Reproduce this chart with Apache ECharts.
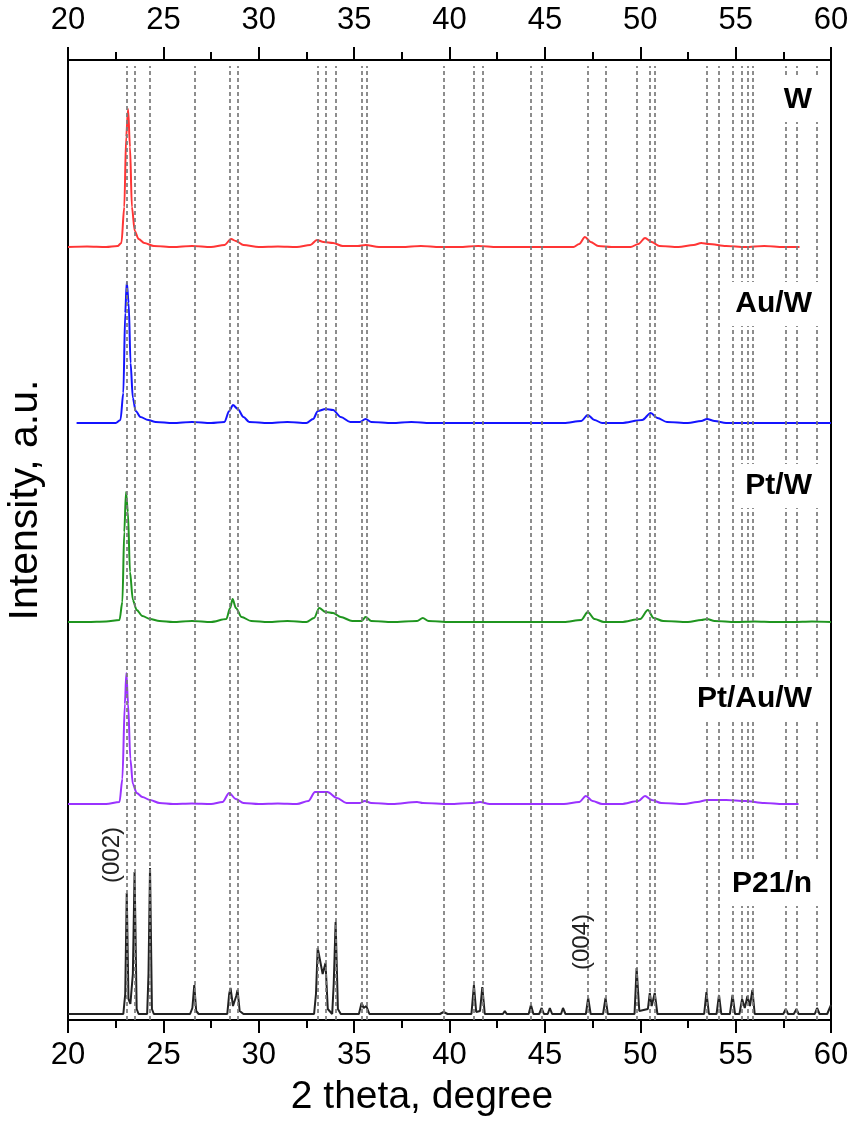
<!DOCTYPE html>
<html>
<head>
<meta charset="utf-8">
<script src="https://cdn.jsdelivr.net/npm/echarts@6/dist/echarts.min.js"></script>
<style>
  html, body { margin: 0; padding: 0; background: #fff; }
  #mycharts { width: 853px; height: 1122px; }
</style>
</head>
<body>
<div id="mycharts"></div>
<script>
// x = 2 theta (degree), y = intensity above each trace's own baseline
const xTicks = [20, 25, 30, 35, 40, 45, 50, 55, 60]

const refLines = [23.08, 23.49, 24.30, 26.62, 28.49, 28.89, 33.09, 33.50, 34.03, 35.39, 35.64, 39.69,
  41.28, 41.72, 44.27, 44.83, 47.27, 48.18, 49.81, 50.50, 50.76, 53.47, 54.13, 54.84, 55.34, 55.62,
  55.88, 57.63, 58.19, 59.27]

const offsets = { W: 773, AuW: 597, PtW: 398, PtAuW: 216, P21n: 6 }

const wData = [[20.0,0],[21,0.5],[22,0],[22.6,1],[22.8,4],[22.95,40],[23.05,110],[23.15,138],[23.25,100],
  [23.35,40],[23.5,16],[23.7,8],[24,4],[24.5,1],[25.5,0],[26.5,1],[27.5,0],[28.2,2],[28.55,8],[28.8,6],
  [29.2,2],[30,0],[31,0.5],[32,0],[32.7,2],[33.05,7],[33.4,5],[33.9,4],[34.4,1],[35.2,1],[35.6,2],[36.3,0],
  [37.5,0],[38.5,1],[39.5,0],[40.5,0],[41.5,1],[42.5,0],[43.5,0],[44.5,0],[45.5,0],[46.5,0],[46.8,3],
  [47.1,10],[47.4,5],[47.8,1],[48.5,0],[49.5,0],[49.9,3],[50.25,9],[50.6,5],[51,1],[52,0],[52.8,2],
  [53.2,4],[53.6,3],[54.5,1],[55.5,0],[56.5,1],[57.5,0],[58.35,0]]

const auwData = [[20.45,0],[21.5,0],[22.5,0],[22.75,3],[22.9,30],[23.0,110],[23.08,141],[23.18,120],
  [23.28,60],[23.4,25],[23.55,12],[23.8,6],[24.2,3],[24.6,1],[25.5,0],[26.5,1],[27.5,0],[28.2,1],
  [28.45,12],[28.65,18],[28.9,14],[29.2,6],[29.5,1],[30.5,0],[31.5,1],[32.5,0],[32.85,4],[33.1,12],
  [33.5,14],[33.9,13],[34.3,6],[34.8,1],[35.3,1],[35.6,4],[35.9,1],[37,0],[38,1],[39,0],[40,0],[41,0],
  [42,0],[43,0],[44,0],[45,0],[46,0],[46.9,2],[47.25,8],[47.6,3],[48,0],[49,0],[50.1,3],[50.55,10],
  [50.9,5],[51.4,1],[52.5,0],[53.2,2],[53.5,4],[53.9,2],[54.5,0],[55.5,0],[56.5,0],[57.5,0],[58.5,0],
  [59.5,0],[60,0]]

const ptwData = [[20,0],[21,0],[22,0.5],[22.7,2],[22.85,20],[22.95,90],[23.04,130],[23.14,110],[23.25,50],
  [23.4,22],[23.6,12],[23.9,6],[24.3,3],[24.8,1],[25.5,0],[26.5,1],[27.5,0],[28.3,3],[28.5,14],[28.63,23],
  [28.8,14],[29.1,5],[29.6,1],[30.5,0],[31.5,1],[32.5,0],[32.9,4],[33.17,14],[33.5,10],[33.9,9],[34.3,5],
  [34.9,1],[35.4,1],[35.6,5],[35.9,1],[37,0],[38.3,1],[38.6,4],[38.9,1],[40,0],[41,0],[42,0],[43,0],
  [44,0],[45,0],[46,0],[46.9,2],[47.25,10],[47.6,3],[48.1,0],[49,0],[50.0,3],[50.4,12],[50.7,4],[51.2,1],
  [52.5,0],[53.2,2],[53.5,3],[53.9,1],[55,0],[56,0.5],[57,0],[58,0],[59,0.5],[60,0]]

const ptauwData = [[20,0],[21,0],[22,0],[22.7,2],[22.85,25],[22.98,100],[23.06,131],[23.15,100],[23.27,45],
  [23.4,20],[23.6,11],[23.9,7],[24.3,4],[24.8,1],[25.5,0],[26.5,0.5],[27.5,0],[28.1,2],[28.45,11],[28.8,5],
  [29.2,1],[30,0],[31,0.5],[32,0],[32.6,3],[32.95,12],[33.6,12],[34.1,6],[34.6,1],[35.3,1],[35.55,3],
  [35.9,1],[37,0],[38.3,2],[38.6,1],[40,0],[41.2,1],[41.6,2],[42.1,0],[43,0],[44,0],[45,0],[46,0],
  [46.8,2],[47.15,8],[47.5,3],[48,0],[49,0],[49.9,3],[50.25,8],[50.6,4],[51.1,1],[52.3,0],[53,2],
  [53.5,4],[54.5,4],[55.5,3],[56.5,1],[57.5,0],[58.3,0]]

const p21nData = [[20,0],[22.9,0],[23.0,20],[23.08,121],[23.17,15],[23.27,10],[23.4,40],[23.49,142],
  [23.6,5],[23.7,0],[24.15,0],[24.22,40],[24.3,146],[24.4,5],[24.5,0],[26.4,0],[26.52,6],[26.62,29],
  [26.72,3],[26.85,0],[28.35,0],[28.45,20],[28.52,26],[28.65,8],[28.82,18],[28.89,24],[29.0,3],[29.2,0],
  [32.9,0],[33.0,20],[33.09,66],[33.25,50],[33.35,40],[33.5,51],[33.62,5],[33.85,0],[33.93,30],
  [34.03,92],[34.15,5],[34.3,0],[35.25,0],[35.39,11],[35.5,6],[35.64,8],[35.8,0],[39.5,0],[39.69,2],
  [39.9,0],[41.15,0],[41.28,29],[41.4,2],[41.6,3],[41.72,27],[41.85,0],[42.8,0],[42.9,3],[43.0,0],
  [44.15,0],[44.27,9],[44.4,0],[44.7,0],[44.83,6],[44.95,0],[45.15,0],[45.26,6],[45.38,0],[45.85,0],
  [45.95,6],[46.08,0],[47.15,0],[47.27,16],[47.4,0],[48.05,0],[48.18,16],[48.3,0],[49.7,0],[49.81,46],
  [49.95,3],[50.4,5],[50.5,21],[50.6,8],[50.76,21],[50.9,0],[53.35,0],[53.47,22],[53.6,0],[54.0,0],
  [54.13,19],[54.25,0],[54.7,0],[54.84,19],[54.97,0],[55.2,0],[55.34,15],[55.48,6],[55.62,18],
  [55.75,8],[55.88,24],[56.0,0],[57.5,0],[57.63,5],[57.75,0],[58.05,0],[58.19,5],[58.3,0],[59.15,0],
  [59.27,6],[59.4,0],[59.8,0],[60,9]]

const FONT = '"Liberation Sans", Arial, Helvetica, sans-serif'

function shift(arr, off) {
  return arr.map(p => [p[0], p[1] + off])
}

function trace(name, arr, off, color, smooth) {
  return {
    name: name,
    type: 'line',
    showSymbol: false,
    smooth: smooth,
    smoothMonotone: 'x',
    lineStyle: { color: color, width: 2 },
    itemStyle: { color: color },
    data: shift(arr, off),
    z: 2
  }
}

let myCharts = echarts.init(document.getElementById('mycharts'))

let xAxisBase = {
  type: 'value',
  min: 20,
  max: 60,
  interval: 5,
  axisLine: { show: true, onZero: false, lineStyle: { color: '#000', width: 2 } },
  axisTick: { show: true, length: 13, lineStyle: { color: '#000', width: 2 } },
  minorTick: { show: true, splitNumber: 2, length: 8, lineStyle: { color: '#000', width: 2 } },
  splitLine: { show: false },
  axisLabel: { color: '#000', fontSize: 31, fontFamily: FONT }
}

let labels = [
  { text: 'W', y: 100 },
  { text: 'Au/W', y: 304 },
  { text: 'Pt/W', y: 486 },
  { text: 'Pt/Au/W', y: 699 },
  { text: 'P21/n', y: 884 }
]

let graphic = labels.map(l => ({
  type: 'text',
  right: 34,
  top: l.y - 22,
  z: 100,
  style: {
    text: l.text,
    fill: '#000',
    font: 'bold 30px ' + FONT,
    backgroundColor: '#fff',
    padding: [7, 7]
  }
}))

graphic.push({
  type: 'text', x: 112, y: 855, rotation: Math.PI / 2, z: 100,
  style: { text: '(002)', fill: '#222', font: '24px ' + FONT, align: 'center', verticalAlign: 'middle' }
})
graphic.push({
  type: 'text', x: 582, y: 942, rotation: Math.PI / 2, z: 100,
  style: { text: '(004)', fill: '#222', font: '24px ' + FONT, align: 'center', verticalAlign: 'middle' }
})

let options = {
  animation: false,
  backgroundColor: '#fff',
  grid: {
    left: 68, right: 22, top: 60, bottom: 102,
    outerBoundsMode: 'none',
    show: true, borderColor: '#000', borderWidth: 2
  },
  xAxis: [
    Object.assign({}, xAxisBase, {
      position: 'bottom',
      name: '2 theta, degree',
      nameLocation: 'middle',
      nameGap: 58,
      nameTextStyle: { color: '#000', fontSize: 39, fontFamily: FONT, padding: [0, 55, 0, 0] },
      axisLabel: Object.assign({}, xAxisBase.axisLabel, { margin: 20 })
    }),
    Object.assign({}, xAxisBase, {
      position: 'top',
      axisLabel: Object.assign({}, xAxisBase.axisLabel, { margin: 24 })
    })
  ],
  yAxis: {
    type: 'value',
    min: 0,
    max: 960,
    name: 'Intensity, a.u.',
    nameLocation: 'middle',
    nameGap: 22,
    nameTextStyle: { color: '#000', fontSize: 41, fontFamily: FONT, padding: [0, 0, 0, 80] },
    axisLine: { show: true, lineStyle: { color: '#000', width: 2 } },
    axisTick: { show: false },
    axisLabel: { show: false },
    splitLine: { show: false }
  },
  graphic: graphic,
  series: [
    trace('W', wData, offsets.W, '#ff3535', 0.3),
    trace('Au/W', auwData, offsets.AuW, '#1414ff', 0.3),
    trace('Pt/W', ptwData, offsets.PtW, '#1f951f', 0.3),
    trace('Pt/Au/W', ptauwData, offsets.PtAuW, '#9a32ff', 0.3),
    {
      name: 'P21/n',
      type: 'line',
      showSymbol: false,
      lineStyle: { color: '#222', width: 2 },
      data: shift(p21nData, offsets.P21n),
      z: 2,
      markLine: {
        silent: true,
        symbol: 'none',
        z: 10,
        label: { show: false },
        lineStyle: { color: '#7a7a7a', width: 1.7, type: [4, 3] },
        data: refLines.map(x => [{ coord: [x, 0] }, { coord: [x, 954] }])
      }
    }
  ]
}
myCharts.setOption(options)
</script>
</body>
</html>
